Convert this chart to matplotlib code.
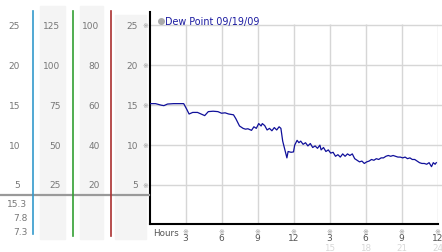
import matplotlib.pyplot as plt
import matplotlib.transforms as mtransforms
from matplotlib.patches import Rectangle
from matplotlib.lines import Line2D

# Dew point readings (hours since midnight, deg)
hours = [0.0, 0.5, 1.0, 1.2, 1.5, 2.0, 2.5, 2.85, 3.1, 3.3, 3.6, 4.0, 4.3, 4.6, 4.9,
         5.3, 5.7, 6.0, 6.3, 6.6, 7.0, 7.2, 7.5, 7.8, 8.0, 8.2, 8.5, 8.7, 8.9, 9.1,
         9.3, 9.4, 9.6, 9.8, 10.0, 10.2, 10.4, 10.6, 10.8, 10.95, 11.1, 11.3, 11.45,
         11.55, 11.8, 12.0, 12.1, 12.3, 12.45, 12.6, 12.8, 13.0, 13.2, 13.4, 13.6,
         13.8, 14.0, 14.2, 14.3, 14.5, 14.7, 14.9, 15.1, 15.3, 15.5, 15.7, 15.9,
         16.1, 16.3, 16.5, 16.7, 16.9, 17.1, 17.3, 17.5, 17.7, 17.9, 18.1, 18.3,
         18.5, 18.7, 18.9, 19.1, 19.3, 19.5, 19.7, 19.9, 20.1, 20.3, 20.5, 20.7,
         20.9, 21.1, 21.3, 21.5, 21.7, 21.9, 22.1, 22.3, 22.5, 22.7, 22.9, 23.1,
         23.3, 23.5, 23.65, 23.8, 23.9]
dew_point = [15.2, 15.2, 15.0, 14.95, 15.15, 15.2, 15.2, 15.2, 14.5, 13.9, 14.1, 14.1,
             13.9, 13.7, 14.2, 14.25, 14.2, 14.0, 14.05, 13.9, 13.8, 13.3, 12.4, 12.1,
             12.0, 12.05, 11.85, 12.3, 12.1, 12.7, 12.4, 12.7, 12.45, 11.9, 12.1, 11.8,
             12.2, 11.9, 12.3, 12.1, 10.5, 9.3, 8.4, 9.2, 9.1, 9.15, 10.0, 10.6, 10.3,
             10.5, 10.1, 10.3, 9.9, 10.2, 9.7, 9.9, 9.6, 10.0, 9.4, 9.7, 9.2, 9.4, 9.0,
             9.1, 8.6, 8.8, 8.5, 8.9, 8.6, 8.9, 8.7, 8.9, 8.3, 8.1, 7.9, 8.0, 7.7, 7.9,
             8.0, 8.2, 8.1, 8.3, 8.2, 8.4, 8.4, 8.6, 8.7, 8.6, 8.7, 8.6, 8.5, 8.5, 8.4,
             8.5, 8.3, 8.4, 8.2, 8.2, 8.0, 7.8, 7.7, 7.7, 7.6, 7.8, 7.3, 7.8, 7.6, 7.8]

y_ticks = [25, 20, 15, 10, 5]
scale_a = ["25", "20", "15", "10", "5"]
scale_b = ["125", "100", "75", "50", "25"]
scale_c = ["100", "80", "60", "40", "20"]
stats = ["15.3", "7.8", "7.3"]
x_ticks = [3, 6, 9, 12, 15, 18, 21, 24]
x_labels = ["3", "6", "9", "12", "3", "6", "9", "12"]
x_labels2 = ["15", "18", "21", "24"]

W, H = 442, 253
fig = plt.figure(figsize=(W / 100, H / 100), dpi=100)
fig.patch.set_facecolor("white")


def fx(px):
    return px / W


def fy(py):
    return 1 - py / H


# main plot area
ax = fig.add_axes([fx(149.5), fy(225), fx(437.5) - fx(149.5), fy(13) - fy(225)])
ax.set_xlim(0, 24)
ax.set_ylim(0.11, 26.69)
ax.set_facecolor("white")
for s in ["top", "right"]:
    ax.spines[s].set_visible(False)
ax.spines["left"].set_linewidth(1.5)
ax.spines["bottom"].set_linewidth(1.5)
ax.set_xticks([])
ax.set_yticks([])

grid_c = "#d6d6d6"
for v in y_ticks:
    ax.axhline(v, xmin=0, xmax=(442 - 149.5) / 288, color=grid_c, lw=1, clip_on=False, zorder=0)
ax.vlines(x_ticks, 0.11, 25.2, colors=grid_c, lw=1, zorder=0)

ax.plot(hours, dew_point, color="#10109a", lw=0.9, zorder=3)

ax.plot([0.95], [25.6], marker="o", ms=4, color="#aaaaaa", clip_on=False)
ax.text(1.3, 25.6, "Dew Point 09/19/09", color="#1a1aa0", fontsize=6.9, va="center", ha="left")

# x labels
ax.text(0.3, -0.95, "Hours", color="#555555", fontsize=6.3, ha="left", va="center")
for h, lab in zip(x_ticks, x_labels):
    ax.text(h, -0.8, "※", color="#999999", fontsize=5, ha="center", va="center", clip_on=False)
    ax.text(h, -1.6, lab, color="#555555", fontsize=6.5, ha="center", va="center", clip_on=False)
for h, lab in zip(x_ticks[4:], x_labels2):
    ax.text(h, -2.8, lab, color="#d8d8d8", fontsize=6.3, ha="center", va="center", clip_on=False, zorder=0)

# left scale panel
band_c = "#f4f4f4"
for x0, x1, y0 in [(40, 65, 7), (80, 103, 7), (115, 146, 16)]:
    fig.patches.append(Rectangle((fx(x0), fy(240)), fx(x1) - fx(x0), fy(y0) - fy(240),
                                 transform=fig.transFigure, color=band_c, zorder=0))

fig.lines.append(Line2D([0, fx(149)], [fy(196), fy(196)], transform=fig.transFigure,
                        color="#999999", lw=1.6, zorder=1))
for xp, c, yb in [(33, "#3399cc", 235), (72.5, "#33a033", 237), (111, "#aa3030", 237)]:
    fig.lines.append(Line2D([fx(xp), fx(xp)], [fy(12), fy(yb)], transform=fig.transFigure,
                            color=c, lw=1.2, zorder=2))

blend = mtransforms.blended_transform_factory(fig.transFigure, ax.transData)
lab_c = "#777777"
for v, a, b, c in zip(y_ticks, scale_a, scale_b, scale_c):
    fig.text(fx(20), v, a, transform=blend, ha="right", va="center", fontsize=6.5, color=lab_c)
    fig.text(fx(60.5), v, b, transform=blend, ha="right", va="center", fontsize=6.5, color=lab_c)
    fig.text(fx(99.5), v, c, transform=blend, ha="right", va="center", fontsize=6.5, color=lab_c)
    fig.text(fx(138), v, a, transform=blend, ha="right", va="center", fontsize=6.5, color=lab_c)
    fig.text(fx(145.5), v, "※", transform=blend, ha="center", va="center", fontsize=5, color="#999999")

for i, s in enumerate(stats):
    fig.text(fx(27.5), fy(205 + i * 14), s, ha="right", va="center", fontsize=6.5, color=lab_c)

fig.savefig("out.png", dpi=100)
